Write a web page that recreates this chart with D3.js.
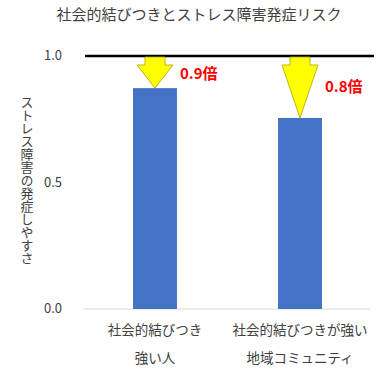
<!DOCTYPE html>
<html><head><meta charset="utf-8">
<script src="https://cdn.jsdelivr.net/npm/d3@7"></script>
<style>body{margin:0;background:#fff}svg{display:block}</style>
</head><body>
<script>
const categories = [["社会的結びつき","強い人"],["社会的結びつきが強い","地域コミュニティ"]];
const values = [0.873, 0.755];
const labels = ["0.9倍","0.8倍"];
const yTicks = [0, 0.5, 1.0];
const title = "社会的結びつきとストレス障害発症リスク";
const yTitle = "ストレス障害の発症しやすさ";

const W=383,H=378;
const font='"Noto Sans CJK JP","Noto Sans",sans-serif';
const svg=d3.select("body").append("svg").attr("width",W).attr("height",H);
const x=d3.scaleBand().domain(d3.range(categories.length)).range([83,372]).paddingInner(0.697).paddingOuter(0.345);
const y=d3.scaleLinear().domain([0,1]).range([309,56]);

svg.append("text").attr("x",199).attr("y",20).attr("text-anchor","middle")
 .attr("font-family",font).attr("font-size",15).attr("fill","#404040").text(title);

svg.selectAll(".yt").data(yTicks).join("text").attr("x",62).attr("y",d=>y(d)+4)
 .attr("text-anchor","end").attr("font-family",font).attr("font-size",13).attr("fill","#404040")
 .text(d=>d.toFixed(1));

svg.append("text").attr("transform","translate(27,96)")
 .style("writing-mode","vertical-rl")
 .attr("font-family",font).attr("font-size",13).attr("fill","#404040").text(yTitle);

svg.append("line").attr("x1",83).attr("x2",370).attr("y1",y(0)).attr("y2",y(0)).attr("stroke","#d9d9d9").attr("stroke-width",1);

svg.selectAll(".bar").data(values).join("rect").attr("x",(d,i)=>x(i)).attr("width",x.bandwidth())
 .attr("y",d=>y(d)).attr("height",d=>y(0)-y(d)).attr("fill","#4472C4");

svg.append("line").attr("x1",85).attr("x2",374).attr("y1",y(1)).attr("y2",y(1)).attr("stroke","#000").attr("stroke-width",2.5);

svg.selectAll(".arrow").data(values).join("path").attr("d",(d,i)=>{
  const cx=x(i)+x.bandwidth()/2, top=y(1)+1, tip=y(d), hs=top+8, sw=10, hw=18;
  return `M${cx-sw},${top}L${cx+sw},${top}L${cx+sw},${hs}L${cx+hw},${hs}L${cx},${tip}L${cx-hw},${hs}L${cx-sw},${hs}Z`;
}).attr("fill","#FFFF00").attr("stroke","#A6A600").attr("stroke-width",0.8);

const ly=[79,92];
svg.selectAll(".vl").data(labels).join("text").attr("x",(d,i)=>x(i)+x.bandwidth()+3).attr("y",(d,i)=>ly[i])
 .attr("font-family",font).attr("font-size",15).attr("font-weight","bold").attr("fill","#FF0000").text(d=>d);

categories.forEach((c,i)=>{
  c.forEach((t,j)=>{
    svg.append("text").attr("x",x(i)+x.bandwidth()/2).attr("y",335+j*28).attr("text-anchor","middle")
     .attr("font-family",font).attr("font-size",13.5).attr("fill","#404040").text(t);
  });
});
</script>
</body></html>
